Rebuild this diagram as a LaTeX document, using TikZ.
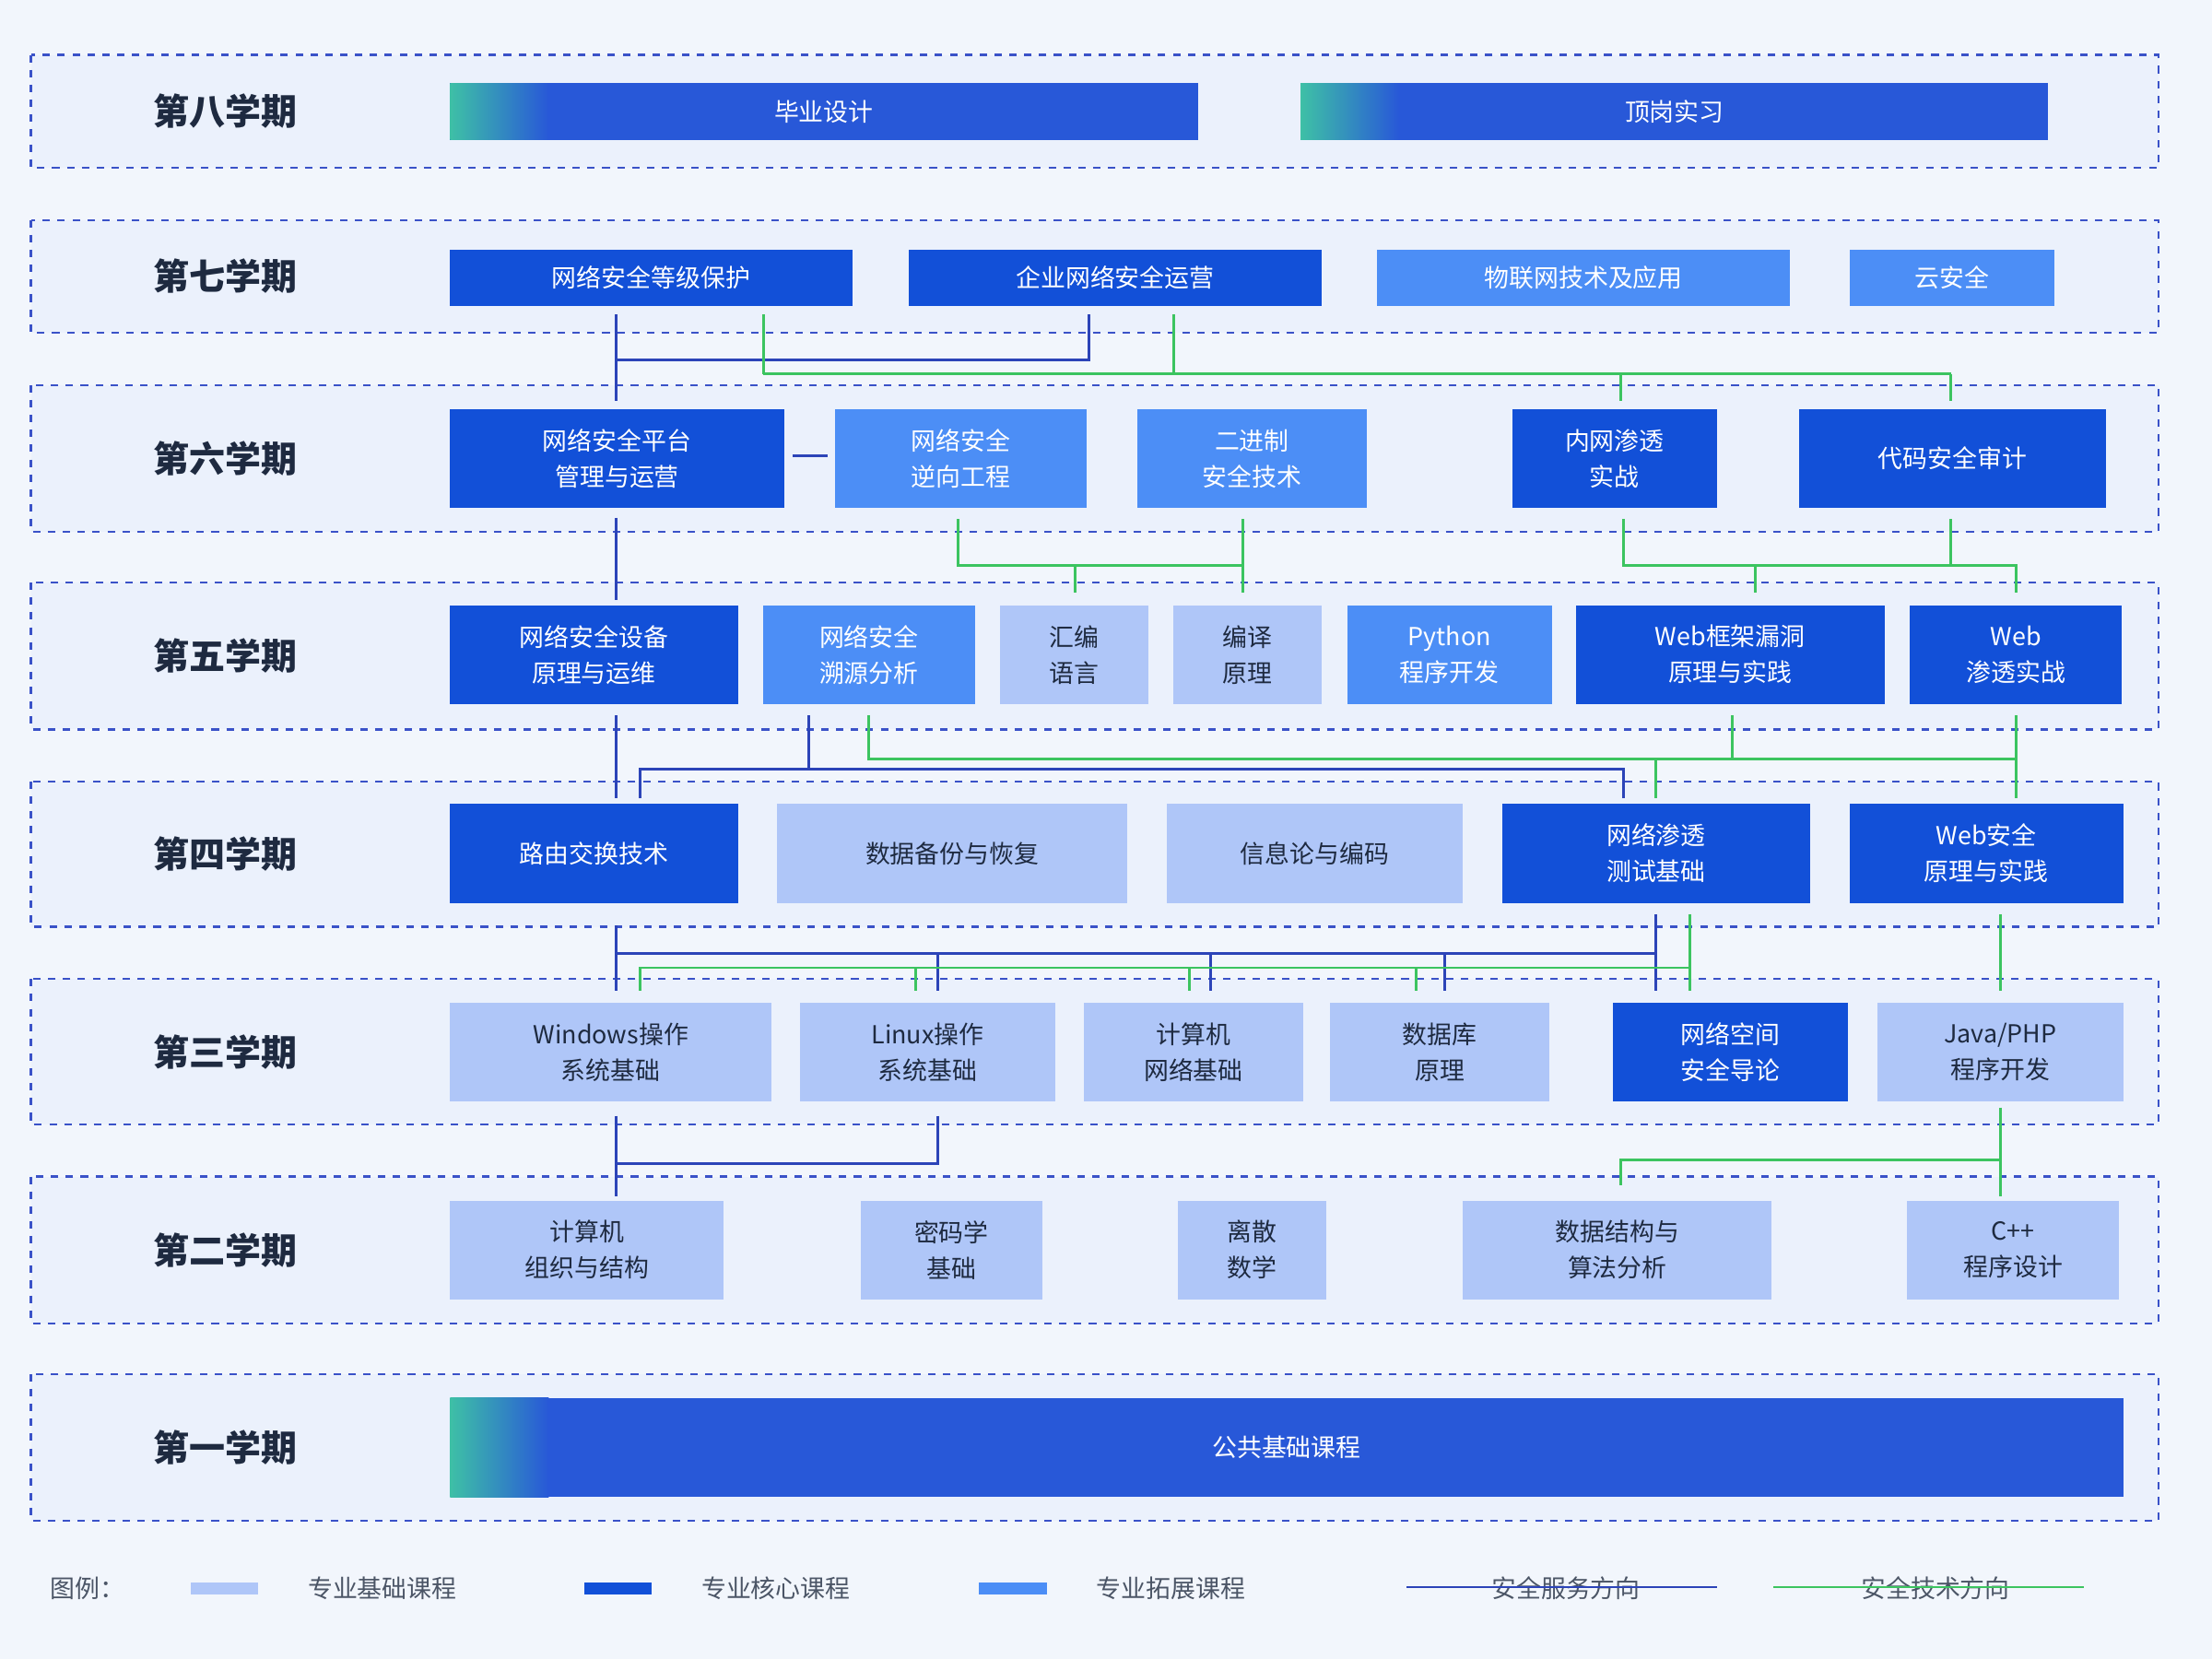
\documentclass[tikz,border=0pt]{standalone}
\usepackage{fontspec}
\setmainfont{Noto Sans CJK SC}
\definecolor{bgpage}{HTML}{F2F6FC}
\definecolor{bandfill}{HTML}{EBF1FC}
\definecolor{banddash}{HTML}{3A52C8}
\definecolor{basecol}{HTML}{AFC6F8}
\definecolor{corecol}{HTML}{1250D8}
\definecolor{extcol}{HTML}{4C8EF6}
\definecolor{gradblue}{HTML}{2858D8}
\definecolor{gradteal}{HTML}{3EC0A6}
\definecolor{servline}{HTML}{2C44B8}
\definecolor{techline}{HTML}{3CC460}
\definecolor{labtext}{HTML}{1E2A40}
\tikzset{band/.style={draw=banddash, dashed, line width=0.9pt, fill=bandfill}}
\tikzset{termlabel/.style={font=\fontsize{14.5}{16}\selectfont\bfseries, text=labtext}}
\tikzset{basebox/.style={fill=basecol, text=labtext}}
\tikzset{corebox/.style={fill=corecol, text=white}}
\tikzset{extbox/.style={fill=extcol, text=white}}
\tikzset{serv/.style={draw=servline, line width=1.1pt}}
\tikzset{tech/.style={draw=techline, line width=1.1pt}}
% course box: name, x1, x2, y1, y2, style, text
\newcommand{\course}[7]{%
  \node[#6, inner sep=0pt, minimum width={(#3-#2)*0.02cm}, minimum height={(#5-#4)*0.02cm},
        align=center, font=\fontsize{10}{14.5}\selectfont] (#1) at ({(#2+#3)/2},{(#4+#5)/2}) {#7};}
\newcommand{\gradcourse}[6]{%
  \fill[gradblue] (#2,#4) rectangle (#3,#5);
  \shade[left color=gradteal, right color=gradblue] (#2,#4) rectangle ({#2+70},#5);
  \node[inner sep=0pt, minimum width={(#3-#2)*0.02cm}, minimum height={(#5-#4)*0.02cm},
        text=white, font=\fontsize{10}{14.5}\selectfont] (#1) at ({(#2+#3)/2},{(#4+#5)/2}) {#6};}
\begin{document}
\begin{tikzpicture}[x=0.02cm, y=-0.02cm]
  \fill[bgpage] (0,0) rectangle (1568,1176);
  \useasboundingbox (0,0) rectangle (1568,1176);

  % term bands
  \foreach \yt/\yb/\lab [count=\i] in {39/119/第八学期, 156/236/第七学期, 273/377/第六学期,
      413/517/第五学期, 554/657/第四学期, 694/797/第三学期, 834/938/第二学期, 974/1078/第一学期}{
    \draw[band] (22,\yt) rectangle (1530,\yb);
    \node[termlabel] (term\i) at (160,{(\yt+\yb)/2}) {\lab};
  }

  % connectors: service direction
  \draw[serv] (437,223) -- (437,284);
  \draw[serv] (772,223) -- (772,255) -- (437,255);
  \draw[serv] (562,323) -- (587,323);
  \draw[serv] (437,367) -- (437,425);
  \draw[serv] (437,507) -- (437,566);
  \draw[serv] (573,507) -- (573,545);
  \draw[serv] (454,566) -- (454,545) -- (1151,545) -- (1151,566);
  \draw[serv] (1174,648) -- (1174,702);
  \draw[serv] (437,656) -- (437,702);
  \draw[serv] (437,676) -- (1174,676);
  \foreach \x in {665,858,1024}{\draw[serv] (\x,676) -- (\x,702);}
  \draw[serv] (437,791) -- (437,848);
  \draw[serv] (665,791) -- (665,825) -- (437,825);

  % connectors: technology direction
  \draw[tech] (541,223) -- (541,265);
  \draw[tech] (832,223) -- (832,265);
  \draw[tech] (541,265) -- (1383,265);
  \draw[tech] (1149,265) -- (1149,284);
  \draw[tech] (1383,265) -- (1383,284);
  \draw[tech] (679,368) -- (679,401) -- (881,401);
  \draw[tech] (881,368) -- (881,420);
  \draw[tech] (762,401) -- (762,420);
  \draw[tech] (1151,368) -- (1151,401) -- (1429,401) -- (1429,420);
  \draw[tech] (1383,368) -- (1383,401);
  \draw[tech] (1244,401) -- (1244,420);
  \draw[tech] (616,507) -- (616,538) -- (1429,538);
  \draw[tech] (1228,507) -- (1228,538);
  \draw[tech] (1429,507) -- (1429,566);
  \draw[tech] (1174,538) -- (1174,566);
  \draw[tech] (1198,648) -- (1198,702);
  \draw[tech] (454,702) -- (454,686) -- (1198,686);
  \foreach \x in {649,843,1004}{\draw[tech] (\x,686) -- (\x,702);}
  \draw[tech] (1418,648) -- (1418,702);
  \draw[tech] (1418,785) -- (1418,848);
  \draw[tech] (1149,840) -- (1149,822) -- (1418,822);

  % term 8
  \gradcourse{bysj}{319}{849}{59}{99}{毕业设计}
  \gradcourse{dgsx}{922}{1452}{59}{99}{顶岗实习}
  % term 7
  \course{djbh}{319}{604}{177}{217}{corebox}{网络安全等级保护}
  \course{qyyy}{644}{937}{177}{217}{corebox}{企业网络安全运营}
  \course{wlw}{976}{1269}{177}{217}{extbox}{物联网技术及应用}
  \course{yaq}{1311}{1456}{177}{217}{extbox}{云安全}
  % term 6
  \course{ptgl}{319}{556}{290}{360}{corebox}{网络安全平台\\管理与运营}
  \course{nxgc}{592}{770}{290}{360}{extbox}{网络安全\\逆向工程}
  \course{ejz}{806}{969}{290}{360}{extbox}{二进制\\安全技术}
  \course{nwst}{1072}{1217}{290}{360}{corebox}{内网渗透\\实战}
  \course{dmsj}{1275}{1493}{290}{360}{corebox}{代码安全审计}
  % term 5
  \course{sbyw}{319}{523}{429}{499}{corebox}{网络安全设备\\原理与运维}
  \course{syfx}{541}{691}{429}{499}{extbox}{网络安全\\溯源分析}
  \course{hbyy}{709}{814}{429}{499}{basebox}{汇编\\语言}
  \course{bkyl}{832}{937}{429}{499}{basebox}{编译\\原理}
  \course{python}{955}{1100}{429}{499}{extbox}{Python\\程序开发}
  \course{webkj}{1117}{1336}{429}{499}{corebox}{Web框架漏洞\\原理与实践}
  \course{webst}{1354}{1504}{429}{499}{corebox}{Web\\渗透实战}
  % term 4
  \course{lyjh}{319}{523}{570}{640}{corebox}{路由交换技术}
  \course{sjbf}{551}{799}{570}{640}{basebox}{数据备份与恢复}
  \course{xxl}{827}{1037}{570}{640}{basebox}{信息论与编码}
  \course{stcs}{1065}{1283}{570}{640}{corebox}{网络渗透\\测试基础}
  \course{webaq}{1311}{1505}{570}{640}{corebox}{Web安全\\原理与实践}
  % term 3
  \course{win}{319}{547}{711}{781}{basebox}{Windows操作\\系统基础}
  \course{linux}{567}{748}{711}{781}{basebox}{Linux操作\\系统基础}
  \course{jsjwl}{768}{924}{711}{781}{basebox}{计算机\\网络基础}
  \course{sjk}{943}{1098}{711}{781}{basebox}{数据库\\原理}
  \course{kjaq}{1143}{1310}{711}{781}{corebox}{网络空间\\安全导论}
  \course{java}{1331}{1505}{711}{781}{basebox}{Java/PHP\\程序开发}
  % term 2
  \course{zzjg}{319}{513}{851}{921}{basebox}{计算机\\组织与结构}
  \course{mmx}{610}{739}{851}{921}{basebox}{密码学\\基础}
  \course{lssx}{835}{940}{851}{921}{basebox}{离散\\数学}
  \course{sjjg}{1037}{1256}{851}{921}{basebox}{数据结构与\\算法分析}
  \course{cpp}{1352}{1502}{851}{921}{basebox}{C++\\程序设计}
  % term 1
  \gradcourse{ggjc}{319}{1505}{991}{1061}{公共基础课程}

  % legend
  \begin{scope}[every node/.style={font=\fontsize{10}{12}\selectfont, text=labtext!80}]
    \node (lg) at (62,1126) {图例：};
    \fill[basecol] (135,1122) rectangle (183,1130);
    \node (lgbase) at (271,1126) {专业基础课程};
    \fill[corecol] (414,1122) rectangle (462,1130);
    \node (lgcore) at (550,1126) {专业核心课程};
    \fill[extcol] (694,1122) rectangle (742,1130);
    \node (lgext) at (830,1126) {专业拓展课程};
    \node (lgserv) at (1110,1126) {安全服务方向};
    \draw[servline, line width=0.8pt] (997,1125) -- (1217,1125);
    \node (lgtech) at (1372,1126) {安全技术方向};
    \draw[techline, line width=0.8pt] (1257,1125) -- (1477,1125);
  \end{scope}
\end{tikzpicture}
\end{document}
